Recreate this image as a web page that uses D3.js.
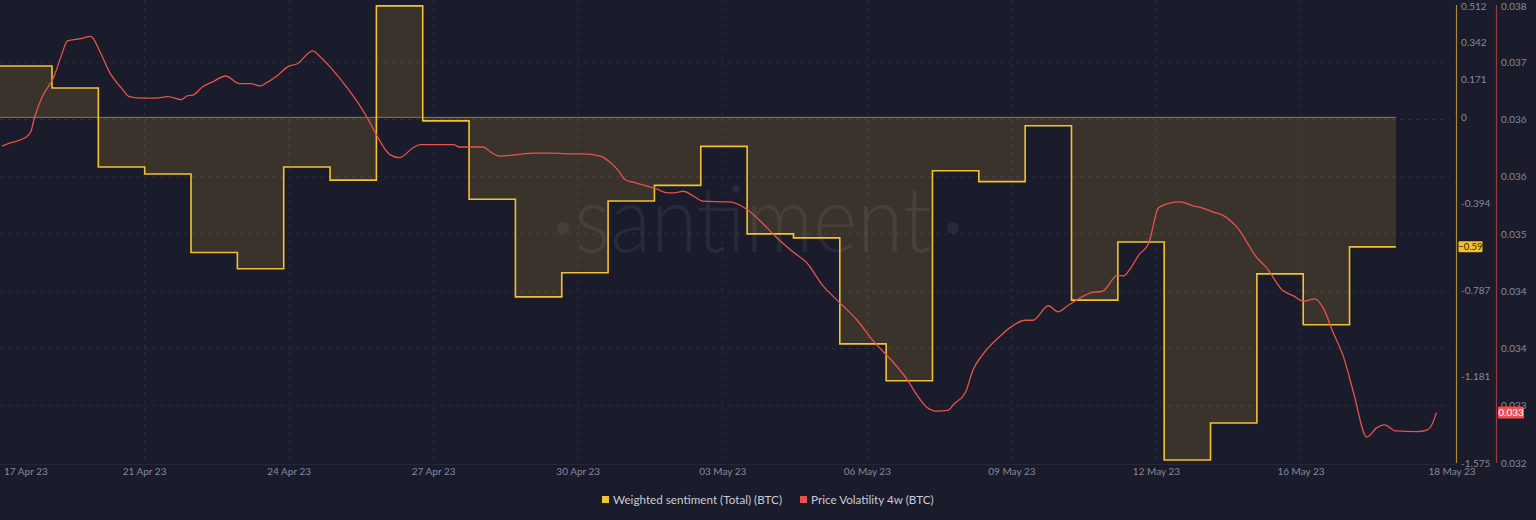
<!DOCTYPE html>
<html>
<head>
<meta charset="utf-8">
<script src="https://cdn.jsdelivr.net/npm/d3@7"></script>
<style>
  html, body { margin: 0; padding: 0; background: #1a1b2b; }
  svg { display: block; }
  text { font-family: Lato, "Open Sans", sans-serif; }
</style>
</head>
<body>
<svg id="chart" width="1536" height="520"></svg>
<script>
// ---------------- DATA ----------------
const sentimentDates = [
  "2023-04-17","2023-04-18","2023-04-19","2023-04-20","2023-04-21","2023-04-22","2023-04-23",
  "2023-04-24","2023-04-25","2023-04-26","2023-04-27","2023-04-28","2023-04-29","2023-04-30",
  "2023-05-01","2023-05-02","2023-05-03","2023-05-04","2023-05-05","2023-05-06","2023-05-07",
  "2023-05-08","2023-05-09","2023-05-10","2023-05-11","2023-05-12","2023-05-13","2023-05-14",
  "2023-05-15","2023-05-16","2023-05-17"
];
const sentimentValues = [
  0.234, 0.234, 0.134, -0.226, -0.258, -0.616, -0.69,
  -0.226, -0.286, 0.508, -0.016, -0.373, -0.818, -0.708,
  -0.381, -0.31, -0.132, -0.531, -0.549, -1.032, -1.2,
  -0.243, -0.293, -0.038, -0.833, -0.568, -1.561, -1.393,
  -0.713, -0.945, -0.59
];
const sentimentEnd = "2023-05-18";

const volatilityDates = [
  "2023-04-17 22:00","2023-04-18 02:00","2023-04-18 10:00","2023-04-18 13:00","2023-04-18 15:00","2023-04-18 19:00",
  "2023-04-19 01:00","2023-04-19 05:00","2023-04-19 08:00","2023-04-19 15:00","2023-04-19 20:00","2023-04-19 21:00",
  "2023-04-20 01:00","2023-04-20 06:00","2023-04-20 12:00","2023-04-20 16:00","2023-04-20 23:00",
  "2023-04-21 06:00","2023-04-21 12:00","2023-04-21 19:00","2023-04-21 22:00",
  "2023-04-22 01:00","2023-04-22 06:00","2023-04-22 11:00","2023-04-22 18:00",
  "2023-04-23 01:00","2023-04-23 07:00","2023-04-23 12:00","2023-04-23 15:00","2023-04-23 21:00",
  "2023-04-24 02:00","2023-04-24 07:00","2023-04-24 15:00","2023-04-24 19:00",
  "2023-04-25 00:00","2023-04-25 09:00","2023-04-25 16:00","2023-04-25 20:00",
  "2023-04-26 00:00","2023-04-26 07:00","2023-04-26 12:00","2023-04-26 19:00","2023-04-26 23:00",
  "2023-04-27 05:00","2023-04-27 16:00","2023-04-27 19:00","2023-04-27 23:00",
  "2023-04-28 07:00","2023-04-28 12:00","2023-04-28 16:00",
  "2023-04-29 01:00","2023-04-29 09:00","2023-04-29 18:00",
  "2023-04-30 03:00","2023-04-30 11:00","2023-04-30 20:00",
  "2023-05-01 01:00","2023-05-01 05:00","2023-05-01 09:00","2023-05-01 13:00","2023-05-01 20:00",
  "2023-05-02 01:00","2023-05-02 07:00","2023-05-02 10:00","2023-05-02 15:00","2023-05-02 20:00",
  "2023-05-03 01:00","2023-05-03 14:00","2023-05-03 17:00",
  "2023-05-04 00:00","2023-05-04 08:00","2023-05-04 15:00",
  "2023-05-05 00:00","2023-05-05 07:00","2023-05-05 15:00",
  "2023-05-06 00:00","2023-05-06 09:00","2023-05-06 17:00",
  "2023-05-07 04:00","2023-05-07 11:00","2023-05-07 16:00","2023-05-07 21:00",
  "2023-05-08 02:00","2023-05-08 08:00","2023-05-08 11:00","2023-05-08 17:00","2023-05-08 21:00",
  "2023-05-09 02:00","2023-05-09 11:00","2023-05-09 16:00",
  "2023-05-10 00:00","2023-05-10 04:00","2023-05-10 12:00","2023-05-10 17:00","2023-05-10 22:00",
  "2023-05-11 10:00","2023-05-11 16:00",
  "2023-05-12 00:00","2023-05-12 03:00","2023-05-12 06:00","2023-05-12 11:00","2023-05-12 16:00","2023-05-12 21:00",
  "2023-05-13 01:00","2023-05-13 08:00","2023-05-13 15:00","2023-05-13 20:00",
  "2023-05-14 01:00","2023-05-14 06:00","2023-05-14 14:00",
  "2023-05-15 00:00","2023-05-15 05:00","2023-05-15 13:00","2023-05-15 19:00",
  "2023-05-16 00:00","2023-05-16 06:00","2023-05-16 11:00","2023-05-16 15:00","2023-05-16 21:00",
  "2023-05-17 02:00","2023-05-17 09:00","2023-05-17 14:00","2023-05-17 18:00",
  "2023-05-18 00:00","2023-05-18 11:00","2023-05-18 16:00","2023-05-18 19:00","2023-05-18 21:00"
];
const volatilityValues = [
  0.03615,0.03619,0.03626,0.03634,0.03653,0.03680,
  0.03706,0.03735,0.03753,0.03756,0.03759,0.03757,
  0.03738,0.03711,0.03691,0.03680,0.03678,
  0.03678,0.03680,0.03676,0.03681,
  0.03682,0.03693,0.03699,0.03707,
  0.03697,0.03697,0.03694,0.03698,0.03708,
  0.03719,0.03723,0.03740,0.03732,
  0.03719,0.03691,0.03666,0.03649,
  0.03630,0.03604,0.03600,0.03613,0.03617,
  0.03617,0.03617,0.03614,0.03614,
  0.03614,0.03606,0.03602,
  0.03604,0.03606,0.03606,
  0.03605,0.03605,0.03602,
  0.03594,0.03584,0.03571,0.03568,0.03563,
  0.03559,0.03554,0.03554,0.03556,0.03550,
  0.03543,0.03542,0.03541,
  0.03532,0.03514,0.03496,
  0.03476,0.03462,0.03433,
  0.03410,0.03387,0.03361,
  0.03331,0.03309,0.03289,0.03273,
  0.03268,0.03269,0.03277,0.03292,0.03322,
  0.03342,0.03366,0.03377,
  0.03387,0.03387,0.03406,0.03398,0.03406,
  0.03423,0.03425,
  0.03446,0.03445,0.03453,0.03473,0.03488,0.03534,
  0.03539,0.03542,0.03537,0.03534,
  0.03529,0.03525,0.03508,
  0.03469,0.03456,0.03427,0.03419,
  0.03412,0.03415,0.03400,0.03374,0.03338,
  0.03293,0.03234,0.03246,0.03250,
  0.03242,0.03241,0.03243,0.03252,0.03266
];

const xDomain = ["2023-04-17 21:04", "2023-05-19 06:37"];
const xTickLabels = ["17 Apr 23","21 Apr 23","24 Apr 23","27 Apr 23","30 Apr 23","03 May 23",
                     "06 May 23","09 May 23","12 May 23","16 May 23","18 May 23"];
const sentimentTickLabels = ["0.512","0.342","0.171","0","-0.394","-0.787","-1.181","-1.575"];
const volatilityTickLabels = ["0.032","0.033","0.034","0.034","0.035","0.036","0.036","0.037","0.038"];
const sentimentDomain = [-1.575, 0.512];
const volatilityDomain = [0.032, 0.038];
const legendItems = ["Weighted sentiment (Total) (BTC)", "Price Volatility 4w (BTC)"];

// ---------------- STYLE / LAYOUT ----------------
const W = 1536, H = 520;
const plot = { left: 0, right: 1455, top: 5, bottom: 463 };
const C = {
  bg: "#1a1b2b",
  grid: "#2a2c3f",
  text: "#878a9c",
  yellow: "#f2c230",
  red: "#e5534b",
  yAxis: "#a8893a",
  rAxis: "#9c3a40",
  fill: "rgba(243,193,54,0.15)"
};

const parseDay = d3.timeParse("%Y-%m-%d");
const parseTime = d3.timeParse("%Y-%m-%d %H:%M");

const svg = d3.select("#chart");
svg.append("rect").attr("width", W).attr("height", H).attr("fill", C.bg);

const x = d3.scaleTime()
  .domain(xDomain.map(parseTime))
  .range([plot.left, plot.right]);
const ySent = d3.scaleLinear().domain(sentimentDomain).range([plot.bottom, plot.top]);
const yVol = d3.scaleLinear().domain(volatilityDomain).range([plot.bottom, plot.top]);

// grid: horizontal dashed at volatility ticks
const volTickValues = volatilityTickLabels.map((l, i) =>
  volatilityDomain[0] + i * (volatilityDomain[1] - volatilityDomain[0]) / (volatilityTickLabels.length - 1));
svg.append("g").selectAll("line")
  .data(volTickValues.slice(1, -1))
  .join("line")
  .attr("x1", plot.left).attr("x2", 1450)
  .attr("y1", d => yVol(d)).attr("y2", d => yVol(d))
  .attr("stroke", C.grid).attr("stroke-width", 1).attr("stroke-dasharray", "4,4");

// x tick positions: evenly spaced
const xTickPos = d3.scalePoint().domain(xTickLabels).range([0, 1445.6]);
svg.append("g").selectAll("line")
  .data(xTickLabels.slice(1, -1))
  .join("line")
  .attr("x1", d => xTickPos(d)).attr("x2", d => xTickPos(d))
  .attr("y1", 0).attr("y2", plot.bottom)
  .attr("stroke", C.grid).attr("stroke-width", 1).attr("stroke-dasharray", "4,4");

// x baseline
svg.append("line")
  .attr("x1", 0).attr("x2", 1455)
  .attr("y1", plot.bottom + 1.5).attr("y2", plot.bottom + 1.5)
  .attr("stroke", "#24263a").attr("stroke-width", 1);

// watermark
const wm = svg.append("g").attr("fill", "#ffffff").attr("fill-opacity", 0.065);
wm.append("text")
  .attr("x", 753).attr("y", 252)
  .attr("text-anchor", "middle")
  .attr("font-family", "'Open Sans', sans-serif")
  .attr("font-size", 92).attr("font-weight", 300)
  .attr("textLength", 357).attr("lengthAdjust", "spacingAndGlyphs")
  .text("santiment");
wm.append("circle").attr("cx", 563).attr("cy", 228).attr("r", 6);
wm.append("circle").attr("cx", 953).attr("cy", 228).attr("r", 6);

// sentiment data
const sentData = sentimentDates.map((d, i) => ({ t: parseDay(d), v: sentimentValues[i] }));
const sentPath = sentData.concat([{ t: parseDay(sentimentEnd), v: sentimentValues[sentimentValues.length - 1] }]);

const area = d3.area()
  .x(d => x(d.t)).y0(ySent(0)).y1(d => ySent(d.v))
  .curve(d3.curveStepAfter);
svg.append("path").datum(sentPath)
  .attr("d", area).attr("fill", C.fill);

// zero baseline of area
svg.append("line")
  .attr("x1", Math.max(0, x(sentPath[0].t)))
  .attr("x2", x(sentPath[sentPath.length - 1].t))
  .attr("y1", ySent(0)).attr("y2", ySent(0))
  .attr("stroke", C.yellow).attr("stroke-opacity", 0.55).attr("stroke-width", 1);

const line = d3.line().x(d => x(d.t)).y(d => ySent(d.v)).curve(d3.curveStepAfter);
svg.append("clipPath").attr("id", "clip").append("rect")
  .attr("x", plot.left).attr("y", 0).attr("width", plot.right - plot.left).attr("height", plot.bottom + 2);
svg.append("path").datum(sentPath)
  .attr("clip-path", "url(#clip)")
  .attr("d", line).attr("fill", "none")
  .attr("stroke", C.yellow).attr("stroke-width", 1.6);

// volatility
const volData = volatilityDates.map((d, i) => ({ t: parseTime(d), v: volatilityValues[i] }));
const vLine = d3.line().x(d => x(d.t)).y(d => yVol(d.v)).curve(d3.curveMonotoneX);
svg.append("path").datum(volData)
  .attr("clip-path", "url(#clip)")
  .attr("d", vLine).attr("fill", "none")
  .attr("stroke", C.red).attr("stroke-width", 1.3);

// right axes
svg.append("line").attr("x1", 1456.5).attr("x2", 1456.5).attr("y1", plot.top).attr("y2", plot.bottom)
  .attr("stroke", C.yAxis).attr("stroke-width", 1.2);
svg.append("line").attr("x1", 1496.5).attr("x2", 1496.5).attr("y1", plot.top).attr("y2", plot.bottom)
  .attr("stroke", C.rAxis).attr("stroke-width", 1.2);

svg.append("g").selectAll("text")
  .data(sentimentTickLabels)
  .join("text")
  .attr("x", 1461).attr("y", d => Math.max(6, ySent(+d)))
  .attr("dy", "0.35em")
  .attr("font-size", 10).attr("fill", C.text)
  .text(d => d);

svg.append("g").selectAll("text")
  .data(volatilityTickLabels)
  .join("text")
  .attr("x", 1501).attr("y", (d, i) => Math.max(6, yVol(volTickValues[i])))
  .attr("dy", "0.35em")
  .attr("font-size", 10).attr("fill", C.text)
  .text(d => d);

// last-value badges
const lastSent = sentimentValues[sentimentValues.length - 1];
const sy = ySent(lastSent);
svg.append("rect").attr("x", 1458.5).attr("y", sy - 5.5).attr("width", 24).attr("height", 11)
  .attr("rx", 1).attr("fill", C.yellow);
svg.append("text").attr("x", 1470.5).attr("y", sy).attr("dy", "0.35em")
  .attr("text-anchor", "middle").attr("font-size", 9.5).attr("fill", "#2a2410")
  .text(d3.format(".2f")(lastSent));

const lastVol = volatilityValues[volatilityValues.length - 1];
const vy = yVol(lastVol);
svg.append("rect").attr("x", 1498).attr("y", vy - 6).attr("width", 26).attr("height", 12)
  .attr("rx", 1).attr("fill", "#ef4f4f");
svg.append("text").attr("x", 1511).attr("y", vy).attr("dy", "0.35em")
  .attr("text-anchor", "middle").attr("font-size", 10).attr("fill", "#ffffff")
  .text(d3.format(".3f")(lastVol));

// x axis labels
svg.append("g").selectAll("text")
  .data(xTickLabels)
  .join("text")
  .attr("x", (d, i) => i === 0 ? 4 : (i === xTickLabels.length - 1 ? 1452 : xTickPos(d)))
  .attr("y", 471).attr("dy", "0.35em")
  .attr("text-anchor", (d, i) => i === 0 ? "start" : "middle")
  .attr("font-size", 10).attr("fill", C.text)
  .text(d => d);

// legend
const legend = svg.append("g");
const legendColors = [C.yellow, C.red];
const legendX = [602, 800];
legendItems.forEach((name, i) => {
  legend.append("rect").attr("x", legendX[i]).attr("y", 496).attr("width", 7).attr("height", 7)
    .attr("fill", legendColors[i]);
  legend.append("text").attr("x", legendX[i] + 11).attr("y", 500).attr("dy", "0.35em")
    .attr("font-size", 11.7).attr("fill", "#c9cbd6")
    .text(name);
});
</script>
</body>
</html>
